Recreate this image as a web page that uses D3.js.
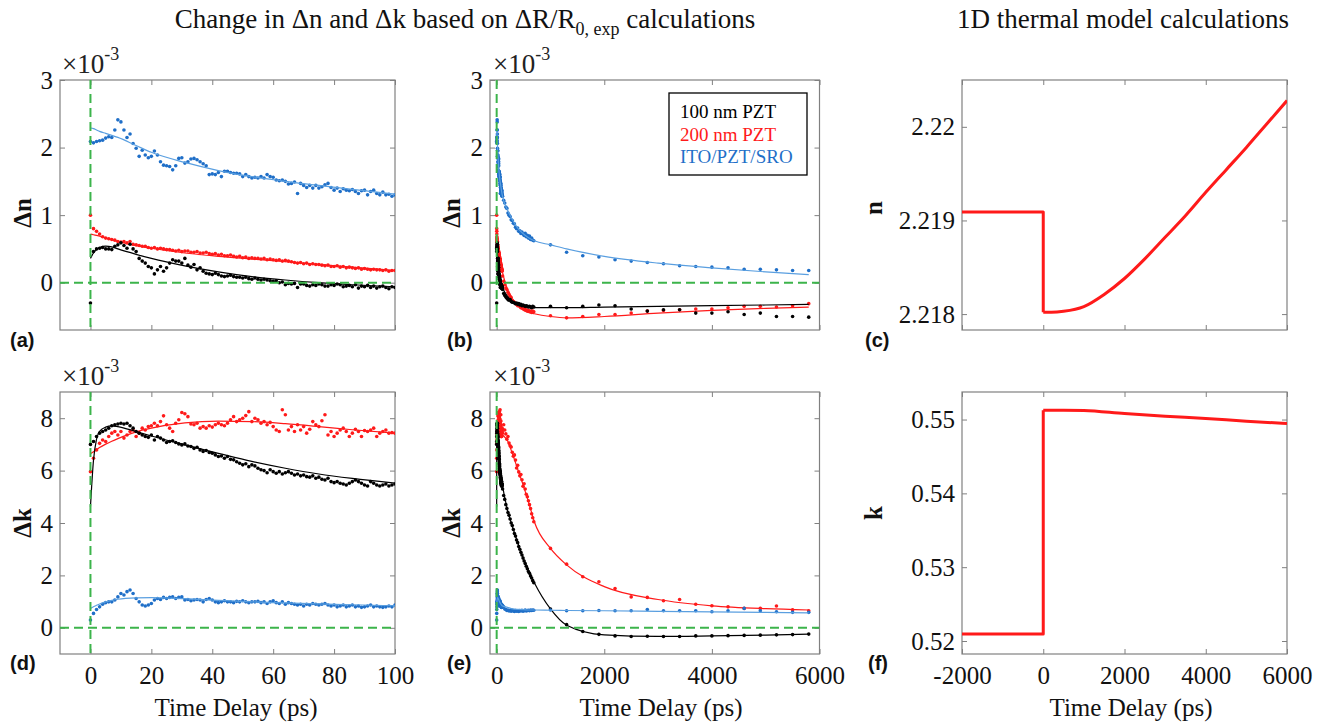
<!DOCTYPE html>
<html>
<head>
<meta charset="utf-8">
<script src="https://cdn.jsdelivr.net/npm/d3@7"></script>
<style>
  body { margin: 0; background: #fff; }
</style>
</head>
<body>
<svg id="chart" width="1322" height="727"></svg>
<script>
// ---------- data ----------
// sampling grid of the short scans (ps), 1 ps steps
var shortT = d3.range(0, 101);

// Δn (x1e-3), 0..100 ps
var blueDnShort = [2.09,2.07,2.09,2.10,2.11,2.14,2.16,2.15,2.26,2.41,2.38,2.26,2.15,2.20,2.06,1.99,1.87,1.96,1.89,1.85,
  1.87,1.95,1.89,1.79,1.74,1.73,1.72,1.67,1.73,1.84,1.85,1.77,1.79,1.83,1.84,1.82,1.79,1.76,1.73,1.60,
  1.61,1.60,1.63,1.57,1.65,1.65,1.63,1.62,1.62,1.61,1.57,1.60,1.57,1.55,1.56,1.55,1.57,1.55,1.60,1.57,
  1.56,1.52,1.51,1.52,1.50,1.46,1.47,1.49,1.32,1.47,1.44,1.41,1.44,1.40,1.44,1.40,1.42,1.45,1.47,1.41,
  1.37,1.40,1.35,1.39,1.37,1.36,1.38,1.35,1.32,1.36,1.37,1.30,1.35,1.37,1.32,1.30,1.34,1.30,1.31,1.28,1.30];
var redDnShort = [1.00,0.80,0.76,0.72,0.68,0.66,0.65,0.64,0.63,0.61,0.60,0.61,0.59,0.61,0.57,0.56,0.55,0.54,0.54,0.52,
  0.51,0.52,0.50,0.51,0.50,0.49,0.49,0.48,0.47,0.48,0.46,0.47,0.47,0.45,0.45,0.46,0.44,0.44,0.45,0.43,
  0.42,0.43,0.41,0.42,0.40,0.40,0.41,0.39,0.38,0.39,0.37,0.38,0.36,0.37,0.36,0.36,0.35,0.36,0.34,0.35,
  0.34,0.33,0.34,0.32,0.33,0.32,0.31,0.30,0.29,0.30,0.28,0.29,0.27,0.28,0.27,0.27,0.26,0.25,0.26,0.24,
  0.24,0.25,0.23,0.24,0.22,0.23,0.22,0.21,0.22,0.20,0.21,0.20,0.19,0.20,0.19,0.19,0.18,0.19,0.17,0.18,0.18];
var blackDnShort = [-0.30,0.46,0.50,0.51,0.52,0.50,0.50,0.49,0.54,0.56,0.59,0.55,0.51,0.57,0.50,0.46,0.36,0.32,0.29,0.24,
  0.22,0.13,0.19,0.24,0.17,0.22,0.29,0.34,0.32,0.32,0.29,0.36,0.26,0.23,0.27,0.19,0.22,0.17,0.14,0.13,
  0.12,0.14,0.12,0.10,0.09,0.10,0.11,0.09,0.08,0.08,0.07,0.08,0.06,0.05,0.07,0.05,0.04,0.05,0.04,0.03,
  0.02,0.03,0.00,0.01,-0.03,-0.01,-0.02,-0.01,-0.07,-0.02,-0.02,-0.04,-0.05,-0.03,-0.04,-0.02,-0.03,-0.05,-0.05,-0.03,
  -0.04,-0.02,-0.03,-0.06,-0.05,-0.04,-0.06,-0.03,-0.08,-0.05,-0.06,-0.04,-0.07,-0.05,-0.08,-0.06,-0.05,-0.07,-0.09,-0.06,-0.07];

// Δk (x1e-3), 0..100 ps
var redDkShort = [5.96,6.47,6.79,7.04,7.17,7.11,7.30,7.43,7.49,7.36,7.49,7.24,7.36,7.49,7.55,7.30,7.43,7.62,7.55,7.68,
  7.71,7.81,7.71,7.87,8.09,7.75,7.62,7.49,7.81,7.94,8.22,8.17,8.06,7.78,7.75,7.81,7.62,7.68,7.62,7.71,
  7.66,7.75,7.81,7.75,7.71,7.81,7.94,8.06,7.87,7.94,8.00,8.10,8.25,7.87,8.00,7.94,7.81,7.87,7.75,7.84,
  7.68,7.55,7.49,8.32,8.13,7.55,7.68,7.49,7.75,7.55,7.68,7.43,7.58,7.87,7.75,7.68,7.90,8.13,7.36,7.49,
  7.30,7.43,7.55,7.62,7.49,7.30,7.43,7.58,7.49,7.30,7.53,7.49,7.55,7.62,7.30,7.43,7.49,7.55,7.43,7.45,7.43];
var blackDkShort = [7.00,7.11,7.30,7.43,7.49,7.55,7.62,7.71,7.75,7.78,7.81,7.78,7.81,7.71,7.62,7.49,7.43,7.36,7.30,7.27,
  7.36,7.17,7.30,7.24,7.17,7.07,7.11,7.14,7.07,7.02,6.98,7.02,6.94,6.92,6.85,6.89,6.79,6.73,6.77,6.69,
  6.66,6.60,6.54,6.56,6.47,6.54,6.43,6.41,6.34,6.28,6.22,6.26,6.15,6.22,6.18,6.09,6.03,6.00,5.92,6.03,
  5.96,5.90,5.96,5.87,5.92,5.96,5.90,5.83,5.87,5.80,5.83,5.77,5.75,5.80,5.71,5.75,5.67,5.64,5.71,5.58,
  5.54,5.58,5.52,5.49,5.45,5.52,5.58,5.64,5.58,5.52,5.45,5.41,5.58,5.52,5.45,5.41,5.45,5.49,5.41,5.45,5.49];
var blueDkShort = [0.30,0.55,0.70,0.80,0.90,0.96,0.99,0.99,1.06,1.18,1.31,1.25,1.38,1.44,1.31,1.12,0.99,0.87,0.83,0.87,
  0.93,1.06,1.12,1.08,1.16,1.12,1.16,1.18,1.12,1.16,1.18,1.06,1.08,1.03,1.06,1.08,1.06,0.99,1.08,1.12,
  1.06,0.99,0.96,0.99,1.03,0.99,0.99,0.96,1.01,0.99,1.03,0.99,0.96,0.99,0.99,1.01,0.96,0.99,0.93,0.99,
  1.03,0.96,0.93,0.99,0.90,0.96,0.93,0.90,0.87,0.90,0.83,0.90,0.87,0.93,0.90,0.87,0.90,0.93,0.87,0.83,
  0.87,0.80,0.83,0.87,0.80,0.83,0.87,0.80,0.83,0.78,0.80,0.83,0.87,0.80,0.83,0.80,0.78,0.80,0.83,0.80,0.87];

// fitted curves, short scans
var fitT = [0, 1, 2, 3, 5, 7, 9, 15, 20, 31, 42, 53, 64, 75, 86, 100];
var blueDnFit  = [2.29, 2.28, 2.26, 2.24, 2.21, 2.18, 2.15, 2.03, 1.93, 1.78, 1.66, 1.57, 1.50, 1.44, 1.38, 1.31];
var redDnFit   = [0.72, 0.71, 0.70, 0.69, 0.66, 0.64, 0.61, 0.55, 0.51, 0.44, 0.39, 0.35, 0.31, 0.27, 0.23, 0.18];
var blackDnFit = [0.36, 0.44, 0.49, 0.52, 0.54, 0.53, 0.50, 0.42, 0.36, 0.25, 0.16, 0.09, 0.04, 0.00, -0.03, -0.06];
var redDkFit   = [6.64, 6.72, 6.80, 6.88, 7.01, 7.12, 7.22, 7.48, 7.62, 7.82, 7.89, 7.87, 7.79, 7.68, 7.56, 7.43];
var blackDkFit = [4.62, 6.40, 7.20, 7.50, 7.66, 7.71, 7.68, 7.49, 7.32, 6.98, 6.66, 6.35, 6.09, 5.87, 5.70, 5.52];
var blueDkFit  = [0.74, 0.80, 0.86, 0.91, 0.99, 1.05, 1.09, 1.14, 1.15, 1.11, 1.05, 0.99, 0.95, 0.91, 0.88, 0.84];

// long scans, beyond 100 ps (ps)
var longT = [110,130,150,170,190,210,230,250,270,290,310,330,350,370,390,410,430,450,470,490,
  510,530,550,570,590,610,630,650,670,690,
  1000,1300,1600,1900,2200,2500,2800,3100,3400,3700,4000,4300,4600,4900,5200,5500,5800];
var blueDnLong = [1.28,1.22,1.18,1.12,1.10,1.03,1.00,0.98,0.93,0.92,0.88,0.87,0.82,0.80,0.81,0.76,0.77,0.73,0.75,0.72,
  0.70,0.73,0.68,0.70,0.66,0.69,0.64,0.66,0.63,0.62,
  0.56,0.45,0.40,0.38,0.34,0.32,0.30,0.28,0.25,0.24,0.23,0.22,0.20,0.20,0.19,0.18,0.18];
var redDnLong = [0.10,0.02,-0.03,-0.08,-0.10,-0.14,-0.17,-0.20,-0.22,-0.26,-0.28,-0.29,-0.31,-0.32,-0.34,-0.33,-0.35,-0.37,-0.36,-0.38,
  -0.39,-0.40,-0.40,-0.42,-0.41,-0.43,-0.42,-0.44,-0.42,-0.43,
  -0.49,-0.52,-0.50,-0.47,-0.47,-0.45,-0.42,-0.41,-0.40,-0.39,-0.39,-0.37,-0.35,-0.35,-0.36,-0.34,-0.31];
var blackDnLong = [-0.10,-0.16,-0.19,-0.21,-0.23,-0.25,-0.26,-0.25,-0.28,-0.29,-0.29,-0.30,-0.31,-0.30,-0.32,-0.31,-0.33,-0.32,-0.34,-0.33,
  -0.34,-0.35,-0.34,-0.35,-0.36,-0.35,-0.36,-0.37,-0.35,-0.36,
  -0.35,-0.37,-0.35,-0.33,-0.34,-0.39,-0.42,-0.40,-0.40,-0.45,-0.45,-0.43,-0.47,-0.45,-0.50,-0.50,-0.51];
var redDkLong = [7.60,7.75,7.55,7.40,7.20,7.30,7.05,6.95,6.90,6.70,6.55,6.60,6.40,6.10,6.20,5.95,5.80,5.85,5.65,5.40,
  5.50,5.30,5.10,5.00,4.85,4.70,4.55,4.35,4.20,4.05,
  3.03,2.43,1.95,1.76,1.50,1.18,1.16,1.03,1.08,0.90,0.84,0.80,0.74,0.74,0.83,0.69,0.65];
var blackDkLong = [5.30,5.05,4.90,4.70,4.55,4.40,4.30,4.15,4.00,3.90,3.75,3.60,3.50,3.35,3.25,3.10,3.00,2.88,2.78,2.66,
  2.55,2.45,2.35,2.25,2.15,2.08,1.98,1.90,1.80,1.72,
  0.72,0.12,-0.14,-0.25,-0.31,-0.33,-0.32,-0.33,-0.33,-0.31,-0.31,-0.30,-0.29,-0.28,-0.27,-0.26,-0.24];
var blueDkLong = [0.85,0.80,0.72,0.70,0.66,0.68,0.64,0.66,0.63,0.67,0.64,0.62,0.66,0.63,0.65,0.62,0.66,0.64,0.67,0.63,
  0.65,0.68,0.64,0.66,0.67,0.65,0.68,0.66,0.68,0.67,
  0.68,0.65,0.65,0.66,0.65,0.65,0.70,0.65,0.65,0.65,0.61,0.65,0.74,0.65,0.61,0.59,0.59];

// fitted curves, long scans beyond 100 ps
var fitLongT = [200, 300, 400, 500, 600, 700, 1000, 1300, 2000, 3000, 4000, 5000, 5800];
var blueDnFitLong  = [1.08, 0.92, 0.80, 0.72, 0.66, 0.62, 0.56, 0.50, 0.39, 0.29, 0.22, 0.16, 0.12];
var redDnFitLong   = [-0.10, -0.26, -0.35, -0.41, -0.44, -0.46, -0.50, -0.52, -0.50, -0.45, -0.41, -0.38, -0.36];
var blackDnFitLong = [-0.20, -0.28, -0.32, -0.35, -0.36, -0.37, -0.37, -0.37, -0.36, -0.35, -0.34, -0.33, -0.32];
var redDkFitLong   = [7.15, 6.60, 6.00, 5.40, 4.75, 4.05, 3.03, 2.40, 1.57, 1.08, 0.84, 0.73, 0.68];
var blackDkFitLong = [4.50, 3.82, 3.20, 2.63, 2.15, 1.72, 0.72, 0.10, -0.27, -0.33, -0.31, -0.28, -0.24];
var blueDkFitLong  = [0.78, 0.72, 0.70, 0.69, 0.68, 0.68, 0.67, 0.66, 0.65, 0.63, 0.61, 0.59, 0.57];

// 1D thermal model (first three points are the step at t = 0)
var nModelT = [-2000, 0, 0, 200, 500, 1000, 1500, 2000, 2500, 3000, 3500, 4000, 4500, 5000, 5500, 6000];
var nModel  = [2.21909, 2.21909, 2.21802, 2.21802, 2.21803, 2.21808, 2.21821, 2.21838, 2.21859, 2.21882,
  2.21905, 2.21930, 2.21954, 2.21978, 2.22003, 2.22028];
var kModelT = [-2000, 0, 0, 500, 1000, 2000, 3000, 4000, 5000, 6000];
var kModel  = [0.52095, 0.52095, 0.55126, 0.55127, 0.55122, 0.55081, 0.55045, 0.55014, 0.54977, 0.54946];

var legendNames = ["100 nm PZT", "200 nm PZT", "ITO/PZT/SRO"];

// ---------- drawing ----------
var serif = '"Times New Roman", "Liberation Serif", serif';
var cBlack = "#000000", cRed = "#ff1a1a", cBlue = "#1f6fc8", cBlueLine = "#5a9fe0", cGreen = "#3cb44b";
var legendColors = [cBlack, cRed, cBlue];

var svg = d3.select("#chart");

function fmt(d) { return String(+d.toFixed(3)); }

// one framed axes box, MATLAB style (box on, ticks inside)
function makePanel(cfg) {
  var x = d3.scaleLinear().domain(cfg.xDomain).range([cfg.left, cfg.right]);
  var y = d3.scaleLinear().domain(cfg.yDomain).range([cfg.bottom, cfg.top]);
  var g = svg.append("g");

  svg.append("clipPath").attr("id", "clip-" + cfg.name).append("rect")
    .attr("x", cfg.left).attr("y", cfg.top)
    .attr("width", cfg.right - cfg.left).attr("height", cfg.bottom - cfg.top);

  function styleAxis(sel) {
    sel.select(".domain").remove();
    sel.selectAll("line").attr("stroke", "#808080").attr("stroke-width", 1);
    sel.selectAll("text").attr("font-family", serif).attr("font-size", 25).attr("fill", "#111");
  }

  var bottomAxis = d3.axisBottom(x).tickValues(cfg.xTicks).tickSizeInner(-5).tickSizeOuter(0).tickPadding(12)
    .tickFormat(cfg.xLabels ? fmt : "");
  g.append("g").attr("transform", "translate(0," + cfg.bottom + ")").call(bottomAxis).call(styleAxis);
  g.append("g").attr("transform", "translate(0," + cfg.top + ")")
    .call(d3.axisTop(x).tickValues(cfg.xTicks).tickSizeInner(-5).tickSizeOuter(0).tickFormat(""))
    .call(styleAxis);
  g.append("g").attr("transform", "translate(" + cfg.left + ",0)")
    .call(d3.axisLeft(y).tickValues(cfg.yTicks).tickSizeInner(-5).tickSizeOuter(0).tickPadding(7).tickFormat(fmt))
    .call(styleAxis);
  g.append("g").attr("transform", "translate(" + cfg.right + ",0)")
    .call(d3.axisRight(y).tickValues(cfg.yTicks).tickSizeInner(-5).tickSizeOuter(0).tickFormat(""))
    .call(styleAxis);

  g.append("rect")
    .attr("x", cfg.left).attr("y", cfg.top)
    .attr("width", cfg.right - cfg.left).attr("height", cfg.bottom - cfg.top)
    .attr("fill", "none").attr("stroke", "#808080").attr("stroke-width", 1.2);

  var plot = g.append("g").attr("clip-path", "url(#clip-" + cfg.name + ")");
  return { x: x, y: y, g: g, plot: plot, cfg: cfg };
}

function drawDots(p, t, v, color) {
  p.plot.append("g").selectAll("circle")
    .data(d3.zip(t, v))
    .join("circle")
    .attr("cx", function(d) { return p.x(d[0]); })
    .attr("cy", function(d) { return p.y(d[1]); })
    .attr("r", 1.8)
    .attr("fill", color);
}

function drawLine(p, t, v, color, width, curve) {
  var line = d3.line()
    .x(function(d) { return p.x(d[0]); })
    .y(function(d) { return p.y(d[1]); })
    .curve(curve || d3.curveMonotoneX);
  p.plot.append("path")
    .datum(d3.zip(t, v))
    .attr("d", line)
    .attr("fill", "none")
    .attr("stroke", color)
    .attr("stroke-width", width)
    .attr("stroke-linejoin", "round");
}

// step part drawn straight, the rest smoothed
function drawModel(p, t, v) {
  drawLine(p, t.slice(0, 3), v.slice(0, 3), "#ff1a1a", 3, d3.curveLinear);
  drawLine(p, t.slice(2), v.slice(2), "#ff1a1a", 3, d3.curveMonotoneX);
}

function zeroLines(p) {
  var c = p.cfg;
  p.plot.append("line")
    .attr("x1", c.left).attr("x2", c.right).attr("y1", p.y(0)).attr("y2", p.y(0))
    .attr("stroke", cGreen).attr("stroke-width", 2).attr("stroke-dasharray", "9,5");
  p.plot.append("line")
    .attr("x1", p.x(0)).attr("x2", p.x(0)).attr("y1", c.top).attr("y2", c.bottom)
    .attr("stroke", cGreen).attr("stroke-width", 2).attr("stroke-dasharray", "9,5");
}

function exponent(xPos, yPos) {
  var t = svg.append("text").attr("x", xPos).attr("y", yPos)
    .attr("font-family", serif).attr("font-size", 27).attr("fill", "#222");
  t.append("tspan").text("\u00d710");
  t.append("tspan").attr("dy", -13).attr("font-size", 18).text("-3");
}

function yTitle(txt, xPos, yPos) {
  svg.append("text")
    .attr("transform", "translate(" + xPos + "," + yPos + ") rotate(-90)")
    .attr("text-anchor", "middle")
    .attr("font-family", serif).attr("font-size", 25).attr("font-weight", "bold").attr("fill", "#111")
    .text(txt);
}

function xTitle(xPos) {
  svg.append("text").attr("x", xPos).attr("y", 716).attr("text-anchor", "middle")
    .attr("font-family", serif).attr("font-size", 25).attr("fill", "#111")
    .text("Time Delay (ps)");
}

function letter(txt, xPos, yPos) {
  svg.append("text").attr("x", xPos).attr("y", yPos)
    .attr("font-family", '"Liberation Sans", Arial, sans-serif').attr("font-size", 20)
    .attr("font-weight", "bold").attr("fill", "#111")
    .text(txt);
}

// panel geometry
var colA = { left: 60, right: 395 }, colB = { left: 490, right: 819.5 }, colC = { left: 962, right: 1287 };
var rowTop = { top: 80, bottom: 330 }, rowBot = { top: 392, bottom: 654 };

var pa = makePanel({ name: "a", left: colA.left, right: colA.right, top: rowTop.top, bottom: rowTop.bottom,
  xDomain: [-10, 100], yDomain: [-0.7, 3], xTicks: [0, 20, 40, 60, 80, 100], yTicks: [0, 1, 2, 3], xLabels: false });
var pb = makePanel({ name: "b", left: colB.left, right: colB.right, top: rowTop.top, bottom: rowTop.bottom,
  xDomain: [-124, 6000], yDomain: [-0.7, 3], xTicks: [0, 2000, 4000, 6000], yTicks: [0, 1, 2, 3], xLabels: false });
var pc = makePanel({ name: "c", left: colC.left, right: colC.right, top: rowTop.top, bottom: rowTop.bottom,
  xDomain: [-2000, 6000], yDomain: [2.21783, 2.2205], xTicks: [-2000, 0, 2000, 4000, 6000],
  yTicks: [2.218, 2.219, 2.22], xLabels: false });
var pd = makePanel({ name: "d", left: colA.left, right: colA.right, top: rowBot.top, bottom: rowBot.bottom,
  xDomain: [-10, 100], yDomain: [-1, 9], xTicks: [0, 20, 40, 60, 80, 100], yTicks: [0, 2, 4, 6, 8], xLabels: true });
var pe = makePanel({ name: "e", left: colB.left, right: colB.right, top: rowBot.top, bottom: rowBot.bottom,
  xDomain: [-124, 6000], yDomain: [-1, 9], xTicks: [0, 2000, 4000, 6000], yTicks: [0, 2, 4, 6, 8], xLabels: true });
var pf = makePanel({ name: "f", left: colC.left, right: colC.right, top: rowBot.top, bottom: rowBot.bottom,
  xDomain: [-2000, 6000], yDomain: [0.51824, 0.55373], xTicks: [-2000, 0, 2000, 4000, 6000],
  yTicks: [0.52, 0.53, 0.54, 0.55], xLabels: true });

// (a) Δn, short window
drawDots(pa, shortT, blueDnShort, cBlue);   drawLine(pa, fitT, blueDnFit, cBlueLine, 1.2);
drawDots(pa, shortT, redDnShort, cRed);     drawLine(pa, fitT, redDnFit, cRed, 1.2);
drawDots(pa, shortT, blackDnShort, cBlack); drawLine(pa, fitT, blackDnFit, cBlack, 1.2);
zeroLines(pa);

// (b) Δn, long window
var allT = shortT.concat(longT), allFitT = fitT.concat(fitLongT);
drawDots(pb, allT, blueDnShort.concat(blueDnLong), cBlue);
drawLine(pb, allFitT, blueDnFit.concat(blueDnFitLong), cBlueLine, 1.2);
drawDots(pb, allT, redDnShort.concat(redDnLong), cRed);
drawLine(pb, allFitT, redDnFit.concat(redDnFitLong), cRed, 1.2);
drawDots(pb, allT, blackDnShort.concat(blackDnLong), cBlack);
drawLine(pb, allFitT, blackDnFit.concat(blackDnFitLong), cBlack, 1.2);
zeroLines(pb);

// legend in (b)
var leg = svg.append("g");
leg.append("rect").attr("x", 669).attr("y", 93).attr("width", 138).attr("height", 82)
  .attr("fill", "#fff").attr("stroke", "#000").attr("stroke-width", 1.3);
leg.selectAll("text").data(legendNames).join("text")
  .attr("x", 680)
  .attr("y", function(d, i) { return 118 + i * 22.5; })
  .attr("font-family", serif).attr("font-size", 19)
  .attr("fill", function(d, i) { return legendColors[i]; })
  .text(function(d) { return d; });

// (c) n, thermal model
drawModel(pc, nModelT, nModel);

// (d) Δk, short window
drawDots(pd, shortT, redDkShort, cRed);     drawLine(pd, fitT, redDkFit, cRed, 1.2);
drawDots(pd, shortT, blackDkShort, cBlack); drawLine(pd, fitT, blackDkFit, cBlack, 1.2);
drawDots(pd, shortT, blueDkShort, cBlue);   drawLine(pd, fitT, blueDkFit, cBlueLine, 1.2);
zeroLines(pd);

// (e) Δk, long window
drawDots(pe, allT, redDkShort.concat(redDkLong), cRed);
drawLine(pe, allFitT, redDkFit.concat(redDkFitLong), cRed, 1.2);
drawDots(pe, allT, blackDkShort.concat(blackDkLong), cBlack);
drawLine(pe, allFitT, blackDkFit.concat(blackDkFitLong), cBlack, 1.2);
drawDots(pe, allT, blueDkShort.concat(blueDkLong), cBlue);
drawLine(pe, allFitT, blueDkFit.concat(blueDkFitLong), cBlueLine, 1.2);
zeroLines(pe);

// (f) k, thermal model
drawModel(pf, kModelT, kModel);

// exponents, axis titles, panel letters
exponent(62, 73); exponent(493, 73); exponent(62, 385); exponent(493, 385);
yTitle("\u0394n", 31, 213); yTitle("\u0394n", 460, 213); yTitle("n", 882, 208);
yTitle("\u0394k", 31, 523); yTitle("\u0394k", 460, 523); yTitle("k", 882, 513);
xTitle(236); xTitle(661); xTitle(1131);
letter("(a)", 10, 347); letter("(b)", 447, 347); letter("(c)", 865, 347);
letter("(d)", 10, 670); letter("(e)", 447, 670); letter("(f)", 868, 670);

// titles
var t1 = svg.append("text").attr("x", 465).attr("y", 28).attr("text-anchor", "middle")
  .attr("font-family", serif).attr("font-size", 27).attr("fill", "#111");
t1.append("tspan").text("Change in \u0394n and \u0394k based on \u0394R/R");
t1.append("tspan").attr("font-size", 18).attr("dy", 7).text("0, exp");
t1.append("tspan").attr("dy", -7).text(" calculations");
svg.append("text").attr("x", 1123).attr("y", 28).attr("text-anchor", "middle")
  .attr("font-family", serif).attr("font-size", 27).attr("fill", "#111")
  .text("1D thermal model calculations");
</script>
</body>
</html>
